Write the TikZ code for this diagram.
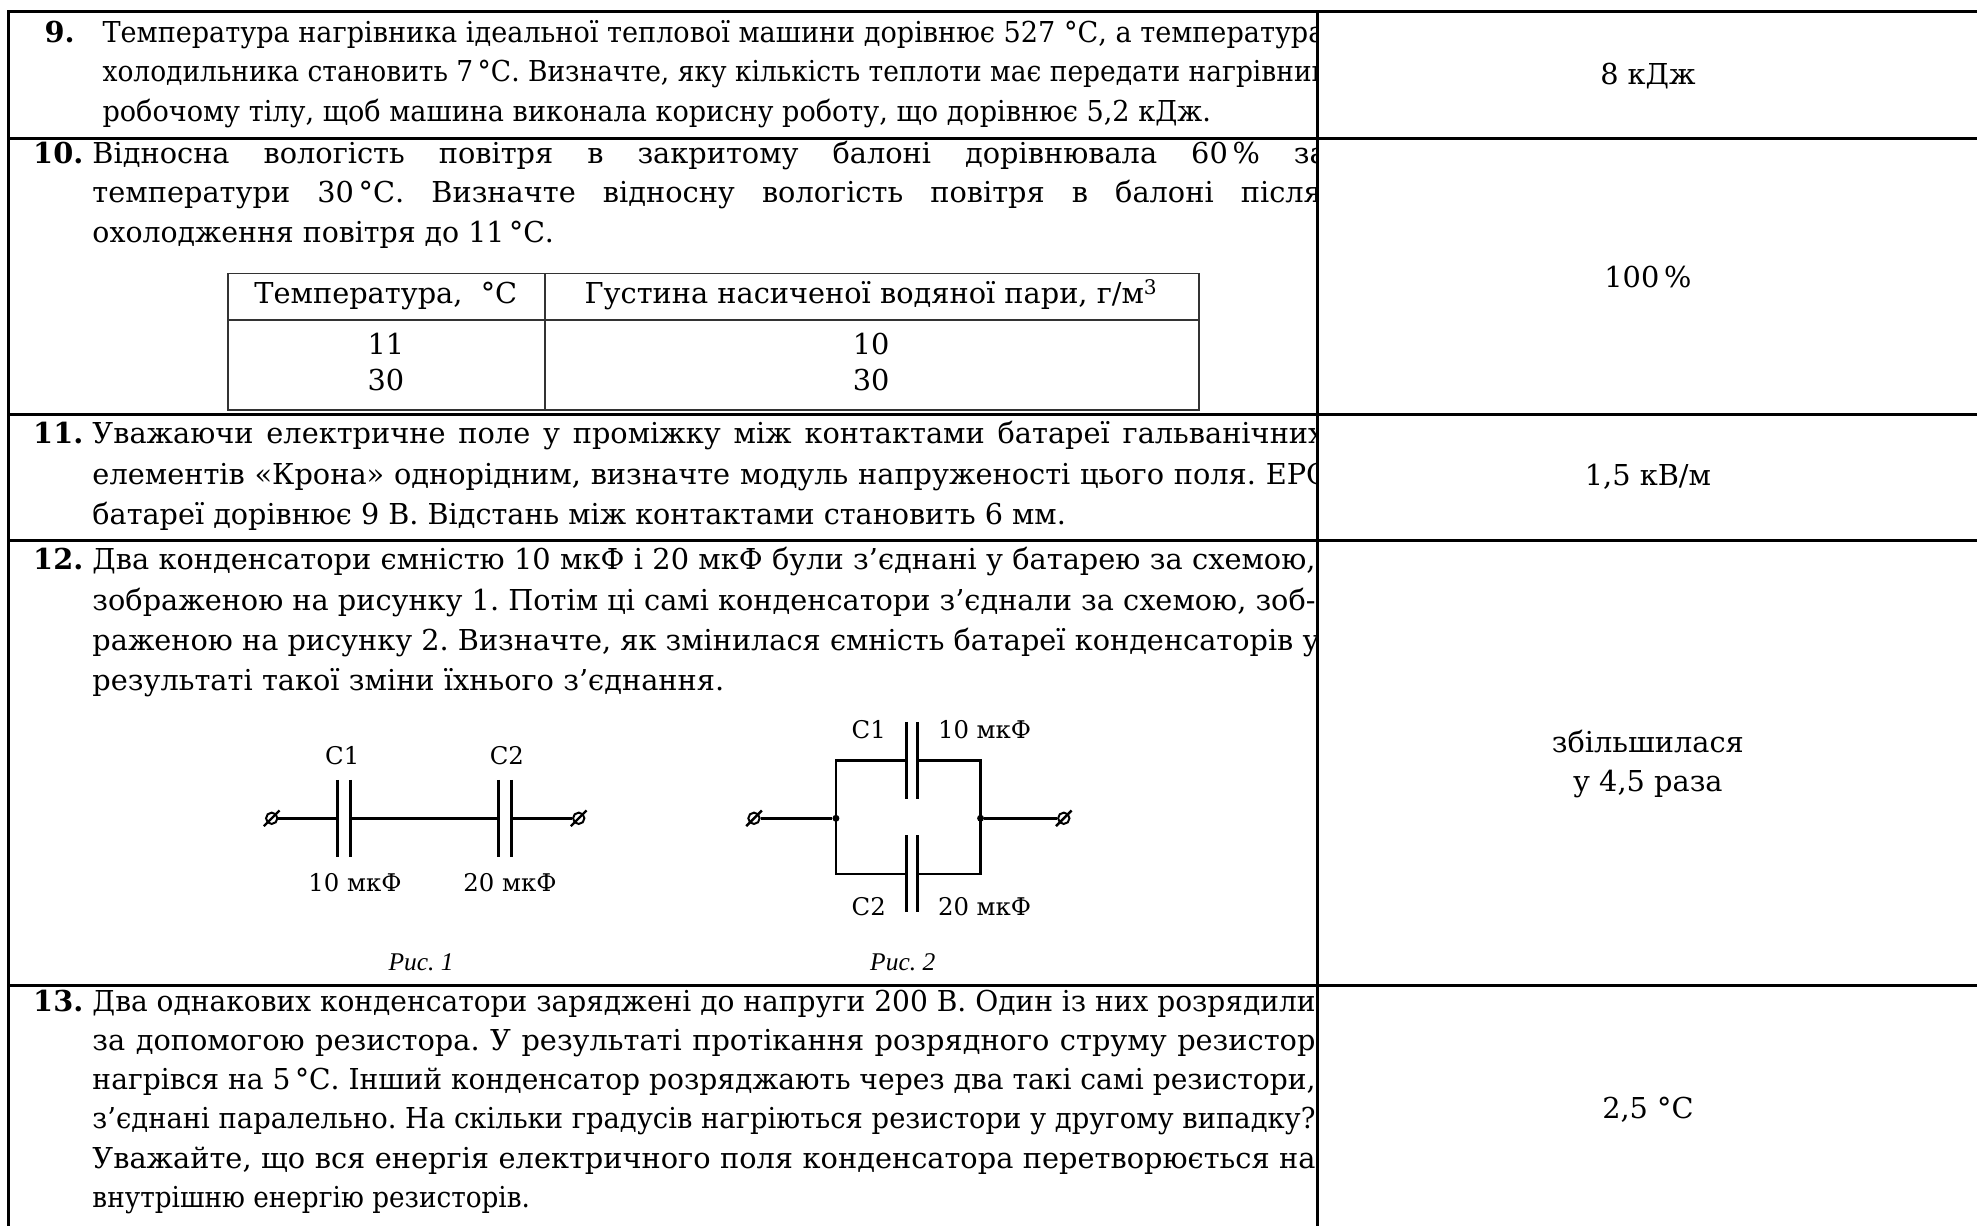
\documentclass[tikz,border=0pt]{standalone}
\usepackage{fontspec}
\setmainfont{DejaVu Serif}
\newfontfamily\rysfont{Liberation Serif}
\usepackage{graphicx}
\frenchspacing

\newlength{\ux}
\setlength{\ux}{0.02cm}
\newsavebox{\rowbox}
% one printed line, squeezed or spread to the given width
\newcommand{\fitline}[2]{\sbox{\rowbox}{#2}%
  \ifdim\wd\rowbox>#1\relax\resizebox{#1}{\height}{#2}\else\makebox[#1][s]{#2}\fi}

\begin{document}
\begin{tikzpicture}[x=0.02cm,y=-0.02cm,
  tline/.style={anchor=base west,inner sep=0pt,font=\fontsize{13}{15}\selectfont},
  num/.style={anchor=base west,inner sep=0pt,font=\fontsize{13}{15}\selectfont\bfseries},
  ans/.style={anchor=base,inner sep=0pt,font=\fontsize{13}{15}\selectfont},
  lab/.style={inner sep=0pt,font=\fontsize{11}{13}\selectfont},
  rys/.style={inner sep=0pt,font=\rysfont\itshape\fontsize{11.5}{13}\selectfont},
  border/.style={line width=1.4pt},
  tabline/.style={line width=0.8pt,black!80},
  wire/.style={line width=1.1pt},
  plate/.style={line width=1.3pt},
  term/.style={circle,draw,line width=0.9pt,inner sep=0pt,minimum size=1.8mm},
  dot/.style={circle,fill,inner sep=0pt,minimum size=1.1mm}]

\useasboundingbox (0,0) rectangle (1568,972);

% table rules
\draw[border] (1568,9) -- (7,9) -- (7,972);
\draw[border] (1045,9) -- (1045,972);
\foreach \y in {110,329,429,781.5}{
	\draw[border] (7,\y) -- (1568,\y);
}

\begin{scope}
\clip (7,9) rectangle (1045,972);

% 9
\node[num] (n9) at (35,34) {9.};
\node[tline] (t9a) at (81,34) {\fitline{969\ux}{Температура нагрівника ідеальної теплової машини дорівнює 527 °С, а температура}};
\node[tline] (t9b) at (81,65) {\fitline{972\ux}{холодильника становить 7\,°С. Визначте, яку кількість теплоти має передати нагрівник}};
\node[tline] (t9c) at (81,96) {\fitline{879\ux}{робочому тілу, щоб машина виконала корисну роботу, що дорівнює 5,2 кДж.}};

% 10
\node[num] (n10) at (26,130) {10.};
\node[tline] (t10a) at (73,130) {\fitline{979\ux}{Відносна вологість повітря в закритому балоні дорівнювала 60\,\% за}};
\node[tline] (t10b) at (73,161) {\fitline{975\ux}{температури 30\,°С. Визначте відносну вологість повітря в балоні після}};
\node[tline] (t10c) at (73,192) {\fitline{366\ux}{охолодження повітря до 11\,°С.}};

% 11
\node[num] (n11) at (26,352) {11.};
\node[tline] (t11a) at (73,352) {\fitline{977\ux}{Уважаючи електричне поле у проміжку між контактами батареї гальванічних}};
\node[tline] (t11b) at (73,384) {\fitline{980\ux}{елементів «Крона» однорідним, визначте модуль напруженості цього поля. ЕРС}};
\node[tline] (t11c) at (73,416) {\fitline{772\ux}{батареї дорівнює 9 В. Відстань між контактами становить 6 мм.}};

% 12
\node[num] (n12) at (26,452) {12.};
\node[tline] (t12a) at (73,452) {\fitline{970\ux}{Два конденсатори ємністю 10 мкФ і 20 мкФ були з’єднані у батарею за схемою,}};
\node[tline] (t12b) at (73,484) {\fitline{970\ux}{зображеною на рисунку 1. Потім ці самі конденсатори з’єднали за схемою, зоб-}};
\node[tline] (t12c) at (73,516) {\fitline{973\ux}{раженою на рисунку 2. Визначте, як змінилася ємність батареї конденсаторів у}};
\node[tline] (t12d) at (73,548) {\fitline{501\ux}{результаті такої зміни їхнього з’єднання.}};

% 13
\node[num] (n13) at (26,802) {13.};
\node[tline] (t13a) at (73,802) {\fitline{970\ux}{Два однакових конденсатори заряджені до напруги 200 В. Один із них розрядили}};
\node[tline] (t13b) at (73,833) {\fitline{970\ux}{за допомогою резистора. У результаті протікання розрядного струму резистор}};
\node[tline] (t13c) at (73,864) {\fitline{970\ux}{нагрівся на 5\,°С. Інший конденсатор розряджають через два такі самі резистори,}};
\node[tline] (t13d) at (73,895) {\fitline{970\ux}{з’єднані паралельно. На скільки градусів нагріються резистори у другому випадку?}};
\node[tline] (t13e) at (73,927) {\fitline{970\ux}{Уважайте, що вся енергія електричного поля конденсатора перетворюється на}};
\node[tline] (t13f) at (73,958) {\fitline{347\ux}{внутрішню енергію резисторів.}};
\end{scope}

% small table
\draw[tabline] (181,217) rectangle (951,325);
\draw[tabline] (181,254) -- (951,254);
\draw[tabline] (432,217) -- (432,325);
\node[ans] (h1) at (306,241) {Температура,~~°С};
\node[ans] (h2) at (691,241) {Густина насиченої водяної пари, г/м\textsuperscript{3}};
\node[ans] (v11) at (306,281) {11};
\node[ans] (v30) at (306,310) {30};
\node[ans] (g10) at (691,281) {10};
\node[ans] (g30) at (691,310) {30};

% answers
\node[ans] (a9) at (1307,67) {8 кДж};
\node[ans] (a10) at (1307,228) {100\,\%};
\node[ans] (a11) at (1307,385) {1,5 кВ/м};
\node[ans] (a12) at (1307,597) {збільшилася};
\node[ans] (a12b) at (1307,628) {у 4,5 раза};
\node[ans] (a13) at (1307,887) {2,5 °С};

% Рис. 1
\node[term] (ta) at (215.5,649) {};
\node[term] (tb) at (459,649) {};
\coordinate (c1a) at (268,649);
\coordinate (c1b) at (278,649);
\coordinate (c2a) at (395.5,649);
\coordinate (c2b) at (406,649);
\draw[wire] (ta) -- (c1a);
\draw[wire] (c1b) -- (c2a);
\draw[wire] (c2b) -- (tb);
\foreach \c in {c1a,c1b,c2a,c2b}{
	\draw[plate] (\c) ++(0,-30.5) -- ++(0,61);
}
\node[lab] (l1) at (271.5,599) {C1};
\node[lab] (l2) at (402,599) {C2};
\node[lab] (l3) at (281.5,700) {10 мкФ};
\node[lab] (l4) at (404.5,700) {20 мкФ};
\node[rys] (r1) at (334,763) {Рис. 1};

% Рис. 2
\node[term] (tc) at (598,649) {};
\node[dot] (jl) at (663,649) {};
\node[dot] (jr) at (777.7,649) {};
\node[term] (td) at (843.7,649) {};
\coordinate (k1a) at (719.3,603);
\coordinate (k1b) at (727.7,603);
\coordinate (k2a) at (719.3,693);
\coordinate (k2b) at (727.7,693);
\draw[wire] (tc) -- (jl);
\draw[wire] (jr) -- (td);
\draw[wire] (jl.center) |- (k1a);
\draw[wire] (jl.center) |- (k2a);
\draw[wire] (k1b) -| (jr.center);
\draw[wire] (k2b) -| (jr.center);
\foreach \c in {k1a,k1b,k2a,k2b}{
	\draw[plate] (\c) ++(0,-30.5) -- ++(0,61);
}
\node[lab] (m1) at (689,579) {C1};
\node[lab,anchor=west] (m2) at (743.6,579) {10 мкФ};
\node[lab] (m3) at (689,719) {C2};
\node[lab,anchor=west] (m4) at (743.6,719) {20 мкФ};
\node[rys] (r2) at (716,763) {Рис. 2};

% terminal slashes
\foreach \t in {ta,tb,tc,td}{
	\draw[wire,shorten <=-2pt,shorten >=-2pt] (\t.south west) -- (\t.north east);
}

\end{tikzpicture}
\end{document}
